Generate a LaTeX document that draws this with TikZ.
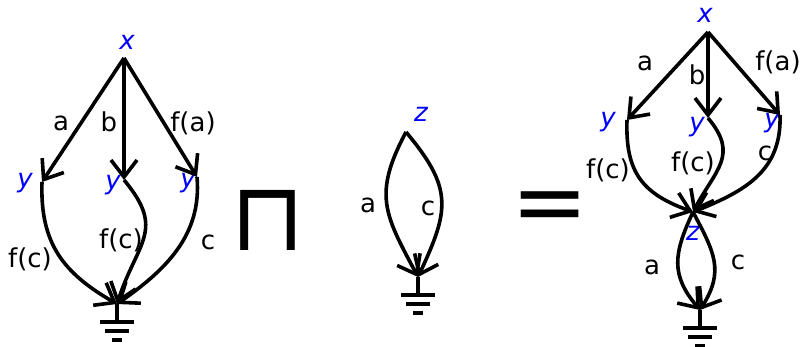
\documentclass[tikz,border=0pt]{standalone}
\usepackage{fontspec}
\setmainfont{DejaVu Sans}
\usetikzlibrary{arrows.meta}
\definecolor{VarBlue}{HTML}{0000FF}

\tikzset{
  wire/.style={line width=3.6pt,-{Straight Barb[length=17pt,width=26pt,line width=3.6pt]}},
  varname/.style={text=VarBlue,font=\fontsize{26}{30}\selectfont\itshape,inner sep=0pt},
  lbl/.style={font=\fontsize{26}{30}\selectfont,inner sep=0pt},
  bigop/.style={font=\fontsize{92}{92}\selectfont,inner sep=0pt},
  earth/.pic={\draw[line width=3.6pt] (0,0) -- (0,-18)
    (-17,-18) -- (17,-18) (-12,-27) -- (12,-27) (-5,-36) -- (5,-36);}
}

\begin{document}
\begin{tikzpicture}[x=1pt,y=1pt]
  \useasboundingbox (0,0) rectangle (803,-347);

  % left: the shape before the meet
  \coordinate (xL) at (124,-58);
  \coordinate (yL1) at (42,-182);
  \coordinate (yL2) at (124,-180);
  \coordinate (yL3) at (197,-177);
  \coordinate (gL) at (117,-304);
  \node[varname] (xLname) at (127,-42) {x};
  \node[varname] (yL1name) at (25,-183) {y};
  \node[varname] (yL2name) at (113,-185) {y};
  \node[varname] (yL3name) at (188,-183) {y};
  \draw[wire] (xL) -- (yL1);
  \draw[wire] (xL) -- (yL2);
  \draw[wire] (xL) -- (yL3);
  \draw[wire] (yL1) to[out=-92,in=150,looseness=1.1] (gL);
  \draw[wire] (yL2) to[out=-50,in=72,looseness=1.35] (gL);
  \draw[wire] (yL3) to[out=-85,in=35] (gL);
  \pic at (gL) {earth};
  \node[lbl] (aL) at (61,-123) {a};
  \node[lbl] (bL) at (109,-122) {b};
  \node[lbl] (faL) at (193,-123) {f(a)};
  \node[lbl] (fcL1) at (30,-259) {f(c)};
  \node[lbl] (fcL2) at (121,-240) {f(c)};
  \node[lbl] (cL) at (208,-242) {c};

  % meet symbol
  \node[bigop,font=\fontsize{96}{96}\selectfont] (meet) at (268,-220) {⊓};

  % middle: the loop on z
  \coordinate (zM) at (406,-132);
  \coordinate (gM) at (418,-277);
  \node[varname] (zMname) at (421,-114) {z};
  \draw[wire] (zM) to[out=-118,in=118,looseness=1.25] (gM);
  \draw[wire] (zM) to[out=-50,in=65,looseness=1.3] (gM);
  \pic at (gM) {earth};
  \node[lbl] (aM) at (368,-205) {a};
  \node[lbl] (cM) at (428,-208) {c};

  % equals
  \node[bigop] (eq) at (550,-213) {\makebox[58pt][c]{=}};

  % right: the result
  \coordinate (xR) at (708,-32);
  \coordinate (yR1) at (627,-120);
  \coordinate (yR2) at (708,-118);
  \coordinate (yR3) at (780,-115);
  \coordinate (zR) at (693,-212);
  \coordinate (gR) at (700,-310);
  \node[varname] (xRname) at (705,-15) {x};
  \node[varname] (yR1name) at (608,-122) {y};
  \node[varname] (yR2name) at (697,-127) {y};
  \node[varname] (yR3name) at (772,-123) {y};
  \node[varname] (zRname) at (693,-233) {z};
  \draw[wire] (xR) -- (yR1);
  \draw[wire] (xR) -- (yR2);
  \draw[wire] (xR) -- (yR3);
  \draw[wire] (yR1) to[out=-92,in=160,looseness=1.2] (zR);
  \draw[wire] (yR2) to[out=-50,in=62,looseness=1.3] (zR);
  \draw[wire] (yR3) to[out=-88,in=22,looseness=1.1] (zR);
  \draw[wire] (zR) to[out=-115,in=130,looseness=1.2] (gR);
  \draw[wire] (zR) to[out=-62,in=58,looseness=1.2] (gR);
  \pic at (gR) {earth};
  \node[lbl] (aR1) at (645,-63) {a};
  \node[lbl] (bR) at (697,-75) {b};
  \node[lbl] (faR) at (778,-62) {f(a)};
  \node[lbl] (fcR1) at (608,-170) {f(c)};
  \node[lbl] (fcR2) at (693,-163) {f(c)};
  \node[lbl] (cR1) at (765,-153) {c};
  \node[lbl] (aR2) at (652,-267) {a};
  \node[lbl] (cR2) at (738,-262) {c};
\end{tikzpicture}
\end{document}
